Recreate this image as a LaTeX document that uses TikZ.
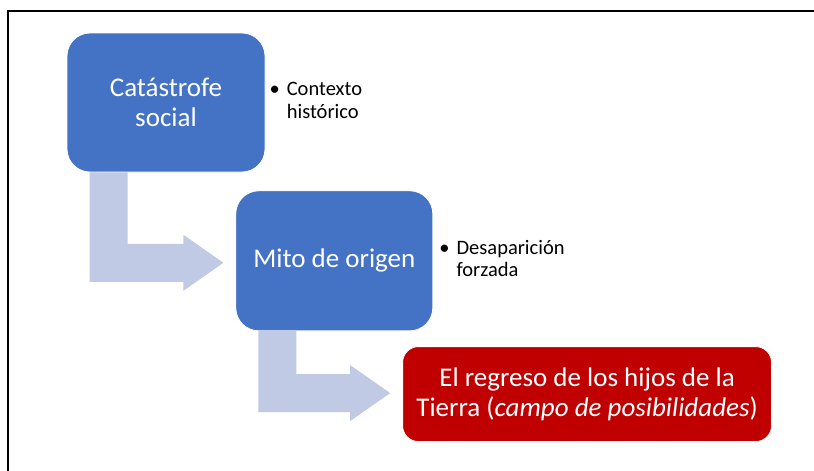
\documentclass[tikz,border=0pt]{standalone}
\usepackage{fontspec}
\setmainfont{Carlito}
\usepackage{xcolor}
\definecolor{azul}{HTML}{4472C4}
\definecolor{azulclaro}{HTML}{C0CAE5}
\definecolor{rojo}{HTML}{C00000}
\usepackage{tikz}
\usetikzlibrary{positioning,calc}

\tikzset{
	caja/.style={fill=azul, draw=white, line width=.8pt, rounded corners=23pt, text=white, align=center, inner sep=0pt, font=\fontsize{27}{30.5}\selectfont},
	cajaroja/.style={caja, fill=rojo, rounded corners=16pt},
	vineta/.style={inner sep=0pt, font=\fontsize{20.5}{22.5}\selectfont},
	flecha/.style={fill=azulclaro},
}

\begin{document}
\begin{tikzpicture}[x=1pt,y=-1pt]
	\useasboundingbox (0,0) rectangle (814,471);
	% draw frame
	\draw[line width=2pt] (8,471) -- (8,11) -- (814,11);
	
	% draw boxes
	\node[caja, minimum width=198pt, minimum height=139pt] (cat) at (166,102.5) {Catástrofe\\social};
	\node[caja, minimum width=197pt, minimum height=140pt, below right=18pt and -30pt of cat] (mito) {Mito de origen};
	\node[cajaroja, minimum width=369pt, minimum height=95pt, below right=15pt and -31pt of mito] (regreso) {El regreso de los hijos de la\\Tierra (\textit{campo de posibilidades})};
	
	% draw bullets
	\node[vineta, right=4pt of cat] (contexto) {\begin{tabular}{@{}l@{\hspace{7pt}}l@{}}\textbullet & Contexto\\ & histórico\end{tabular}};
	\node[vineta, right=6pt of mito] (desap) {\begin{tabular}{@{}l@{\hspace{7pt}}l@{}}\textbullet & Desaparición\\ & forzada\end{tabular}};
	
	%%% bent arrows
	\coordinate (t1) at ($(mito.west)+(-12,2)$);
	\coordinate (t2) at ($(regreso.west)+(-12,-1)$);
	\fill[flecha] ($(cat.south west)+(23,0)$) -- ++(38,0) |- ($(t1)+(-40,-19)$) -- ++(0,-9) -- (t1) -- ++(-40,28) -- ++(0,-9) -| ($(cat.south west)+(23,0)$) -- cycle;
	\fill[flecha] ($(mito.south west)+(23,0)$) -- ++(38,0) |- ($(t2)+(-40,-19)$) -- ++(0,-9) -- (t2) -- ++(-40,28) -- ++(0,-9) -| ($(mito.south west)+(23,0)$) -- cycle;
\end{tikzpicture}
\end{document}
